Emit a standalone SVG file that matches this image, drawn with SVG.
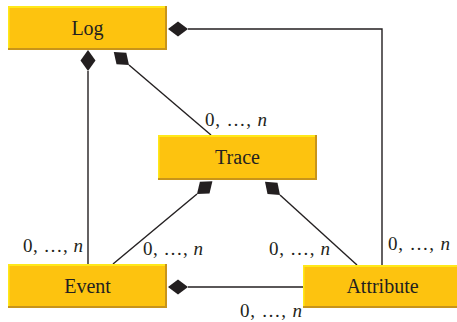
<svg xmlns="http://www.w3.org/2000/svg" width="457" height="322" viewBox="0 0 457 322">
  <style>
    .shade { fill: #C8941A; }
    .light { fill: #FFE81A; }
    .face { fill: #FDC30F; }
    .name { font-family: "Liberation Serif", "DejaVu Serif", serif; font-size: 20px; fill: #231F20; text-anchor: middle; }
    .mult { font-family: "Liberation Serif", "DejaVu Serif", serif; font-size: 19px; fill: #231F20; }
    .mult tspan { font-style: italic; }
    .line { fill: none; stroke: #231F20; stroke-width: 1.4; }
    .dia { fill: #231F20; }
  </style>

  <rect width="457" height="322" fill="#FFFFFF"/>

  <!-- connectors (drawn first so the boxes cover the diamond roots) -->
  <g id="connectors">
    <!-- Log to Attribute -->
    <polyline class="line" points="188,29 382,29 382,265"/>
    <polygon class="dia" points="168,29 178,21.5 188,29 178,36.5"/>
    <!-- Log to Event -->
    <line class="line" x1="88" y1="71" x2="88" y2="264"/>
    <polygon class="dia" points="88,50 95.5,60.5 88,71 80.5,60.5"/>
    <!-- Log to Trace -->
    <line class="line" x1="129" y1="65" x2="211" y2="135"/>
    <polygon class="dia" points="113.8,52 126.3,52.8 129,65 116.5,64.2"/>
    <!-- Trace to Event -->
    <line class="line" x1="197" y1="194" x2="113" y2="264"/>
    <polygon class="dia" points="212.4,181.2 209.5,193.4 197,194 199.9,181.8"/>
    <!-- Trace to Attribute -->
    <line class="line" x1="280" y1="195" x2="357" y2="265"/>
    <polygon class="dia" points="265,181.7 277.5,182.8 280,195 267.5,194"/>
    <!-- Event to Attribute -->
    <line class="line" x1="188" y1="287" x2="303" y2="287"/>
    <polygon class="dia" points="168,287 178,279.5 188,287 178,294.5"/>
  </g>

  <g id="log">
    <rect class="shade" x="8" y="6" width="159" height="44"/>
    <rect class="light" x="8" y="6" width="157" height="42"/>
    <rect class="face" x="9.5" y="8" width="155.5" height="40"/>
    <text class="name" x="87.5" y="35">Log</text>
  </g>

  <g id="trace">
    <rect class="shade" x="158" y="135" width="159" height="45"/>
    <rect class="light" x="158" y="135" width="157" height="43"/>
    <rect class="face" x="159.5" y="137" width="155.5" height="41"/>
    <text class="name" x="237.5" y="164">Trace</text>
  </g>

  <g id="event">
    <rect class="shade" x="8" y="264" width="159" height="44"/>
    <rect class="light" x="8" y="264" width="157" height="42"/>
    <rect class="face" x="9.5" y="266" width="155.5" height="40"/>
    <text class="name" x="87.5" y="293">Event</text>
  </g>

  <g id="attribute">
    <rect class="shade" x="303" y="265" width="159" height="43"/>
    <rect class="light" x="303" y="265" width="157" height="41"/>
    <rect class="face" x="304.5" y="267" width="155.5" height="39"/>
    <text class="name" x="382.5" y="293">Attribute</text>
  </g>

  <!-- multiplicities -->
  <g id="labels">
    <text class="mult" x="205" y="126" textLength="62" lengthAdjust="spacing">0, …, <tspan>n</tspan></text>
    <text class="mult" x="23" y="252" textLength="60" lengthAdjust="spacing">0, …, <tspan>n</tspan></text>
    <text class="mult" x="143" y="255" textLength="60" lengthAdjust="spacing">0, …, <tspan>n</tspan></text>
    <text class="mult" x="269" y="255" textLength="61" lengthAdjust="spacing">0, …, <tspan>n</tspan></text>
    <text class="mult" x="388" y="250" textLength="62" lengthAdjust="spacing">0, …, <tspan>n</tspan></text>
    <text class="mult" x="240" y="317" textLength="62" lengthAdjust="spacing">0, …, <tspan>n</tspan></text>
  </g>
</svg>
